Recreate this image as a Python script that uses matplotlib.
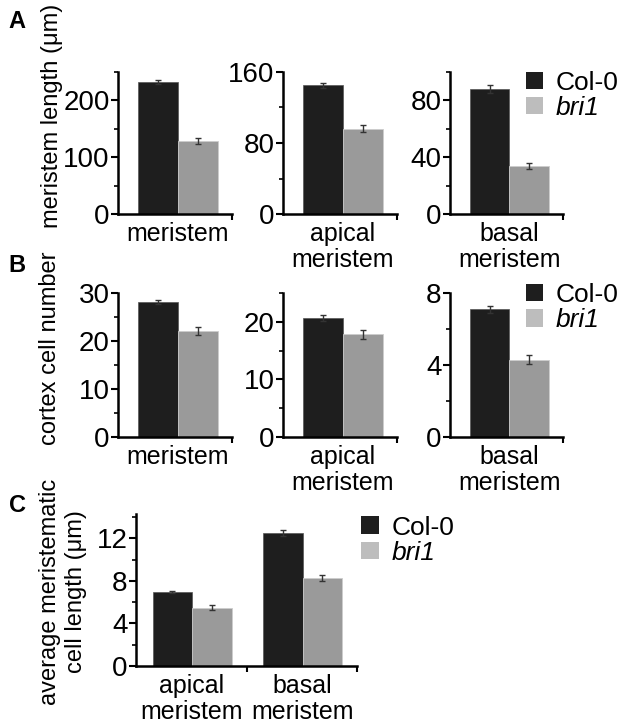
import matplotlib
matplotlib.use("Agg")
import matplotlib.pyplot as plt
from matplotlib.patches import Patch

plt.rcParams['font.family'] = ['Liberation Sans', 'DejaVu Sans']

genotypes = ['Col-0', 'bri1']
col_black = '#1e1e1e'
col_gray = '#9a9a9a'
col_leg_gray = '#bdbdbd'

# panel A: meristem length (um)
a_labels = ['meristem', 'apical\nmeristem', 'basal\nmeristem']
a_col = [232, 145, 88]
a_col_err = [4, 3, 3]
a_bri = [129, 96, 34]
a_bri_err = [5, 4, 2]
a_ylim = [250, 160, 100]
a_major = [[0, 100, 200], [0, 80, 160], [0, 40, 80]]
a_minor = [[50, 150, 250], [40, 120], [20, 60, 100]]

# panel B: cortex cell number
b_labels = ['meristem', 'apical\nmeristem', 'basal\nmeristem']
b_col = [28.1, 20.7, 7.1]
b_col_err = [0.4, 0.5, 0.2]
b_bri = [22.1, 17.8, 4.3]
b_bri_err = [0.9, 0.8, 0.25]
b_ylim = [30, 25, 8]
b_major = [[0, 10, 20, 30], [0, 10, 20], [0, 4, 8]]
b_minor = [[5, 15, 25], [5, 15, 25], [2, 6]]

# panel C: average meristematic cell length (um)
c_labels = ['apical\nmeristem', 'basal\nmeristem']
c_col = [7.0, 12.5]
c_col_err = [0.1, 0.3]
c_bri = [5.5, 8.3]
c_bri_err = [0.2, 0.3]

W, H = 619, 727
fig = plt.figure(figsize=(W / 100, H / 100), dpi=100)

TICK_FS = 20
CAT_FS = 18
LEG_FS = 19
YLAB_FS = 17

def ax_px(x0, x1, y0, y1):
    return fig.add_axes([x0 / W, 1 - y1 / H, (x1 - x0) / W, (y1 - y0) / H])

def style(ax, ymax, major, minor, xlim, xmid=()):
    for s in ['top', 'right']:
        ax.spines[s].set_visible(False)
    for s in ['left', 'bottom']:
        ax.spines[s].set_linewidth(1.8)
    ax.set_ylim(0, ymax)
    ax.set_xlim(*xlim)
    ax.set_yticks(major)
    ax.set_yticks(minor, minor=True)
    ax.tick_params(axis='y', which='major', length=5, width=1.5, labelsize=TICK_FS, pad=1)
    ax.tick_params(axis='y', which='minor', length=3, width=1.2)
    ax.set_xticks([xlim[1]] + list(xmid))
    ax.set_xticklabels([''] * (1 + len(xmid)))
    ax.tick_params(axis='x', which='major', length=4, width=1.5)

def bars(ax, pos, col, col_err, bri, bri_err):
    ax.bar([p - 0.5 for p in pos], col, width=1.0, color=col_black,
           edgecolor='#555555', linewidth=0.5, zorder=2)
    ax.bar([p + 0.5 for p in pos], bri, width=1.0, color=col_gray,
           edgecolor='#cccccc', linewidth=0.6, zorder=2)
    ax.errorbar([p - 0.5 for p in pos], col, yerr=col_err, fmt='none',
                ecolor='#333333', elinewidth=1, capsize=2, capthick=1, zorder=3)
    ax.errorbar([p + 0.5 for p in pos], bri, yerr=bri_err, fmt='none',
                ecolor='#333333', elinewidth=1, capsize=2, capthick=1, zorder=3)

def cat_labels(ax, pos, labels):
    ax.set_xticks(pos, minor=True)
    ax.set_xticklabels(labels, minor=True, fontsize=CAT_FS, linespacing=1.1)
    ax.tick_params(axis='x', which='minor', length=0, pad=6)

def legend(ax, x, y):
    handles = [Patch(facecolor=col_black, edgecolor='none'),
               Patch(facecolor=col_leg_gray, edgecolor='none')]
    leg = ax.legend(handles, genotypes, loc='upper left', bbox_to_anchor=(x, y),
                    frameon=False, fontsize=LEG_FS, handlelength=0.65, handleheight=0.65,
                    handletextpad=0.5, labelspacing=0.05, borderpad=0, borderaxespad=0)
    leg.get_texts()[1].set_style('italic')

xs_A = [(118, 232), (283, 397), (450, 563)]

# row A
for i, (x0, x1) in enumerate(xs_A):
    ax = ax_px(x0, x1, 72, 214)
    bars(ax, [0], [a_col[i]], [a_col_err[i]], [a_bri[i]], [a_bri_err[i]])
    style(ax, a_ylim[i], a_major[i], a_minor[i], (-1.5, 1.35))
    cat_labels(ax, [0], [a_labels[i]])
    if i == 2:
        legend(ax, 0.67, 1.01)

# row B
for i, (x0, x1) in enumerate(xs_A):
    ax = ax_px(x0, x1, 293, 437)
    bars(ax, [0], [b_col[i]], [b_col_err[i]], [b_bri[i]], [b_bri_err[i]])
    style(ax, b_ylim[i], b_major[i], b_minor[i], (-1.5, 1.35))
    cat_labels(ax, [0], [b_labels[i]])
    if i == 2:
        legend(ax, 0.67, 1.07)

# row C
ax = ax_px(136, 357, 514, 666)
c_pos = [0, 2.8]
bars(ax, c_pos, c_col, c_col_err, c_bri, c_bri_err)
style(ax, 14.3, [0, 4, 8, 12], [2, 6, 10, 14], (-1.42, 4.18), xmid=[1.4])
cat_labels(ax, c_pos, c_labels)
legend(ax, 1.02, 0.99)

# y labels
fig.text(52 / W, 1 - 116 / H, 'meristem length (μm)', rotation=90,
         ha='center', va='center', fontsize=YLAB_FS)
fig.text(50 / W, 1 - 348 / H, 'cortex cell number', rotation=90,
         ha='center', va='center', fontsize=YLAB_FS)
fig.text(63 / W, 1 - 592 / H, 'average meristematic\ncell length (μm)', rotation=90,
         ha='center', va='center', fontsize=YLAB_FS, linespacing=1.2)

# panel letters
for letter, y in [('A', 22), ('B', 266), ('C', 505)]:
    fig.text(17 / W, 1 - y / H, letter, ha='center', va='center',
             fontsize=17, fontweight='bold')

fig.savefig('out.png', dpi=100)
